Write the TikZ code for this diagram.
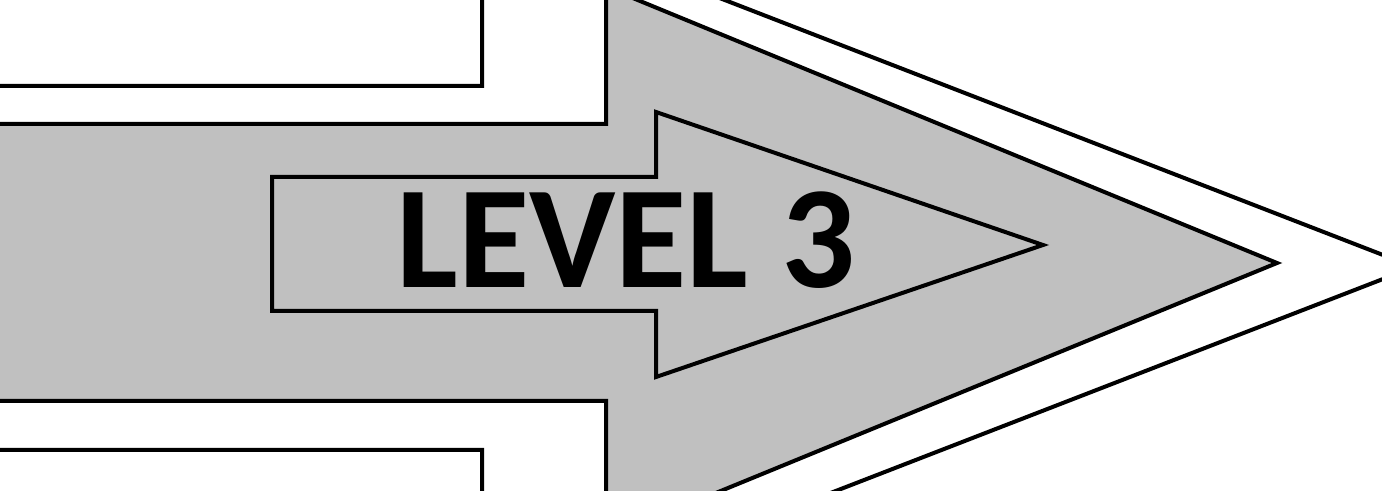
\documentclass[tikz,border=0pt]{standalone}
\usepackage{fontspec}
\setmainfont{Carlito}
\definecolor{levelgray}{RGB}{192,192,192}
\tikzset{%
  outline/.style={draw=black, line width=2pt, line join=miter},
  label/.style={font=\bfseries\fontsize{73}{73}\selectfont, inner sep=0pt}%
}

\begin{document}
\begin{tikzpicture}[x=0.5pt,y=-0.5pt]
\useasboundingbox (0,0) rectangle (1382,491);
\clip (0,0) rectangle (1382,491);

% Outer white arrow
\draw[outline] (-10,86) -- (482,86) -- (482,-94) -- (1414,267)
  -- (482,628) -- (482,450) -- (-10,450);

% Grey arrow
\filldraw[outline, fill=levelgray] (-10,124) -- (606,124) -- (606,-13)
  -- (1277,263) -- (606,538) -- (606,401) -- (-10,401) -- cycle;

% Inner arrow
\draw[outline] (272,177) -- (656,177) -- (656,112) -- (1043,245)
  -- (656,377) -- (656,311) -- (272,311) -- cycle;

\node[label] (level) at (626,240) {LEVEL 3};

\end{tikzpicture}
\end{document}
